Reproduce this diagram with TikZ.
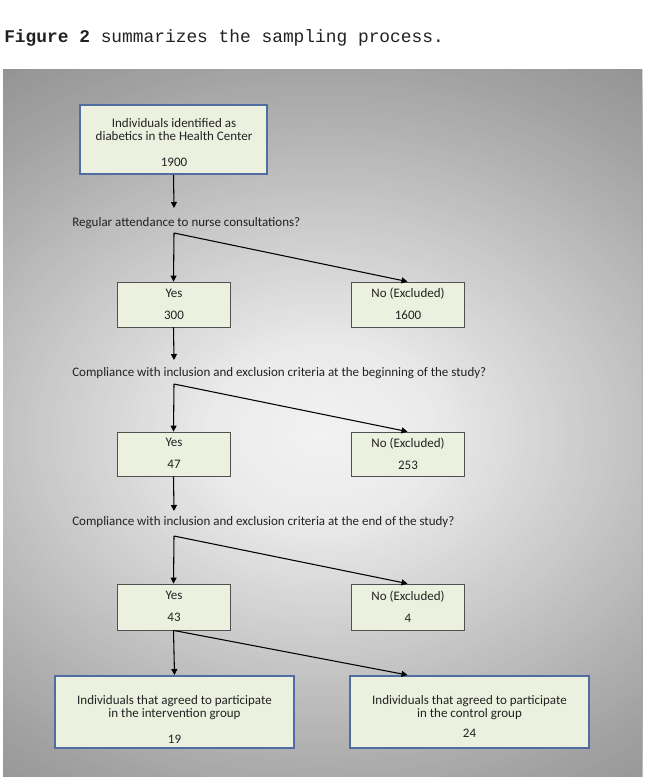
\documentclass[tikz,border=0pt]{standalone}
\usepackage{fontspec}
\setmainfont{Carlito}
\newfontfamily\headmono{Liberation Mono}
\usetikzlibrary{arrows.meta}
\definecolor{boxfill}{HTML}{EBF1DE}
\definecolor{boxblue}{HTML}{4F6DA0}
\definecolor{boxgray}{HTML}{505050}
\definecolor{txt}{HTML}{222222}
\definecolor{bgcorner}{gray}{0.57}
\tikzset{
  fnt/.style={font=\fontsize{9.75}{9.75}\selectfont, text=txt},
  bigbox/.style={draw=boxblue, line width=1.5pt, fill=boxfill, inner sep=0pt},
  smallbox/.style={draw=boxgray, line width=0.6pt, fill=boxfill, inner sep=0pt,
     minimum width=113*0.75pt},
  boxtext/.style={fnt, align=center, inner sep=0pt},
  qlabel/.style={fnt, anchor=west, inner sep=0pt},
  arr/.style={line width=0.8pt, -{Triangle[length=4.5pt,width=4.5pt]}}
}
\begin{document}
\begin{tikzpicture}[x=0.75pt,y=-0.75pt]
\useasboundingbox (0,0) rectangle (646,780);
\fill[white] (0,0) rectangle (646,780);
% heading
\node[anchor=west, inner sep=0pt, text=txt, font=\headmono\fontsize{13.4}{15}\selectfont] (head) at (4,37.5)
  {\textbf{Figure 2} summarizes the sampling process.};
% panel with radial gradient (stepped ellipses)
\begin{scope}
  \clip (3,70) rectangle (642,776);
  \fill[bgcorner] (3,70) rectangle (642,776);
  \foreach \i in {0,...,69}{
    \pgfmathsetmacro\t{52*(1-\i/70)}
    \pgfmathsetmacro\g{\t>42 ? 0.64-(\t-42)/10*0.07 : (\t>10 ? 0.92-(\t-10)/32*0.28 : 0.95-\t/10*0.03)}
    \definecolor{tmpc}{gray}{\g}
    \fill[tmpc] (322,435) ellipse [x radius={8.5*\t pt}, y radius={6.6*\t pt}];
  }
\end{scope}
% boxes
\node[bigbox, minimum width=187*0.75pt, minimum height=69*0.75pt] (top) at (173.5,139.5) {};
\node[boxtext] (topt) at (174,143) {Individuals identified as\\diabetics in the Health Center\\[9.75pt]1900};
\node[smallbox, minimum height=45*0.75pt] (yes1) at (173.5,304.5) {};
\node[boxtext] (yes1t) at (174,304) {Yes\\[6.75pt]300};
\node[smallbox, minimum height=45*0.75pt] (no1) at (407.5,304.5) {};
\node[boxtext] (no1t) at (408,304) {No (Excluded)\\[6.75pt]1600};
\node[smallbox, minimum height=44*0.75pt] (yes2) at (173.5,454) {};
\node[boxtext] (yes2t) at (174,453.5) {Yes\\[6.75pt]47};
\node[smallbox, minimum height=44*0.75pt] (no2) at (407.5,454) {};
\node[boxtext] (no2t) at (408,453.5) {No (Excluded)\\[6.75pt]253};
\node[smallbox, minimum height=46*0.75pt] (yes3) at (173.5,607) {};
\node[boxtext] (yes3t) at (174,606.5) {Yes\\[6.75pt]43};
\node[smallbox, minimum height=46*0.75pt] (no3) at (407.5,607) {};
\node[boxtext] (no3t) at (408,606.5) {No (Excluded)\\[6.75pt]4};
\node[bigbox, minimum width=239*0.75pt, minimum height=72*0.75pt] (lb) at (174.5,712) {};
\node[boxtext] (lbt) at (174.5,719) {Individuals that agreed to participate\\in the intervention group\\[9.75pt]19};
\node[bigbox, minimum width=239*0.75pt, minimum height=72*0.75pt] (rb) at (469.5,712) {};
\node[boxtext] (rbt) at (469.5,716) {Individuals that agreed to participate\\in the control group\\[5.25pt]24};
% question labels
\node[qlabel] (q1) at (72,223) {Regular attendance to nurse consultations?};
\node[qlabel] (q2) at (72,373) {Compliance with inclusion and exclusion criteria at the beginning of the study?};
\node[qlabel] (q3) at (72,522) {Compliance with inclusion and exclusion criteria at the end of the study?};
% coordinates
\coordinate (a1) at (174,208);
\coordinate (s1) at (174,233);
\coordinate (a2) at (174,360);
\coordinate (s2) at (174,384);
\coordinate (a3) at (174,511);
\coordinate (s3) at (174,536);
% connectors
\draw[arr] (top.south) -- (a1);
\draw[arr] (s1) -- (yes1.north);
\draw[arr] (s1) -- (no1.north);
\draw[arr] (yes1.south) -- (a2);
\draw[arr] (s2) -- (yes2.north);
\draw[arr] (s2) -- (no2.north);
\draw[arr] (yes2.south) -- (a3);
\draw[arr] (s3) -- (yes3.north);
\draw[arr] (s3) -- (no3.north);
\draw[arr] (yes3.south) -- (lb.north);
\draw[arr] (yes3.south) -- (no3.south |- rb.north);
\end{tikzpicture}
\end{document}
